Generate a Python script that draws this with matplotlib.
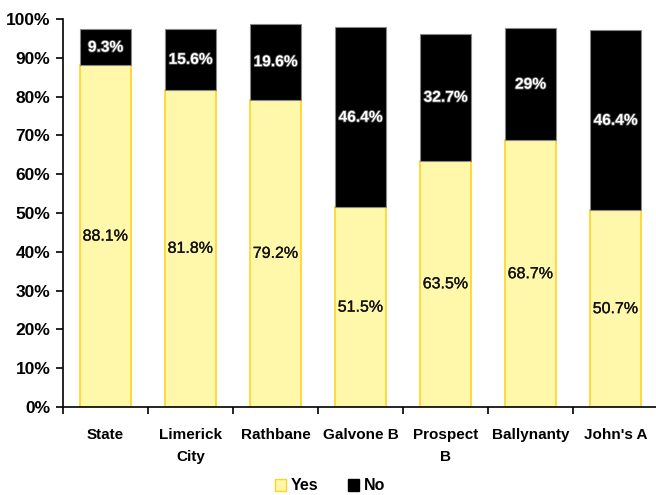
import matplotlib
matplotlib.use('Agg')
import matplotlib.pyplot as plt
import matplotlib.patches as patches
import matplotlib.patheffects as pe
import numpy as np

plt.rcParams['font.family'] = ['Liberation Sans', 'DejaVu Sans']

# chart data
categories = ['State', 'Limerick\nCity', 'Rathbane', 'Galvone B', 'Prospect\nB', 'Ballynanty', "John's A"]
yes_vals = [88.1, 81.8, 79.2, 51.5, 63.5, 68.7, 50.7]
no_vals = [9.3, 15.6, 19.6, 46.4, 32.7, 29, 46.4]
yes_labels = ['88.1%', '81.8%', '79.2%', '51.5%', '63.5%', '68.7%', '50.7%']
no_labels = ['9.3%', '15.6%', '19.6%', '46.4%', '32.7%', '29%', '46.4%']

YES_FACE = '#FFF7AA'
YES_EDGE = '#FFD320'
NO_FACE = '#000000'

fig = plt.figure(figsize=(6.56, 4.95), dpi=100)
ax = fig.add_axes([63 / 656, 1 - 407 / 495, 595 / 656, 388 / 495])

x = np.arange(len(categories))
w = 0.59
ax.bar(x, yes_vals, width=w, color=YES_FACE, edgecolor=YES_EDGE, linewidth=1.2, zorder=2)
ax.bar(x, no_vals, width=w, bottom=yes_vals, color=NO_FACE, edgecolor='#888888',
       linewidth=0.8, zorder=2)

# labels in the middle of each segment
for i in range(len(categories)):
    ax.text(x[i], yes_vals[i] / 2, yes_labels[i], ha='center', va='center',
            fontsize=11.5, color='#111111', zorder=3,
            path_effects=[pe.withStroke(linewidth=0.2, foreground='#111111')])
    ax.text(x[i], yes_vals[i] + no_vals[i] / 2, no_labels[i], ha='center', va='center',
            fontsize=11.2, color='white', weight='bold', zorder=3,
            path_effects=[pe.withStroke(linewidth=1.2, foreground='#555555')])

ax.set_xlim(-0.5, len(categories) - 0.5)
ax.set_ylim(0, 100)
ax.set_yticks(np.arange(0, 101, 10))
ax.set_yticklabels([f'{v}%' for v in range(0, 101, 10)], fontsize=12.5, weight='bold')

# ticks at category boundaries, labels at centres
ax.set_xticks(np.arange(-0.5, len(categories) - 0.4, 1.0))
ax.set_xticklabels([])
ax.set_xticks(x, minor=True)
ax.set_xticklabels(categories, minor=True, fontsize=11, weight='bold', linespacing=1.7)
ax.tick_params(axis='x', which='minor', length=0, pad=15)
ax.tick_params(axis='x', which='major', length=5, width=1.2, direction='out')
ax.tick_params(axis='y', length=5, width=1.2, direction='out', pad=4)

for s in ['top', 'right']:
    ax.spines[s].set_visible(False)
for s in ['left', 'bottom']:
    ax.spines[s].set_linewidth(1.2)

handles = [patches.Patch(facecolor=YES_FACE, edgecolor=YES_EDGE, label='Yes'),
           patches.Patch(facecolor=NO_FACE, edgecolor=NO_FACE, label='No')]
fig.legend(handles=handles, loc='center', bbox_to_anchor=(330 / 656, 1 - 486 / 495),
           ncol=2, frameon=False, prop={'size': 11.5, 'weight': 'bold'},
           handlelength=0.7, handleheight=0.7, handletextpad=0.3, columnspacing=1.8)

fig.savefig('out.png', dpi=100)
